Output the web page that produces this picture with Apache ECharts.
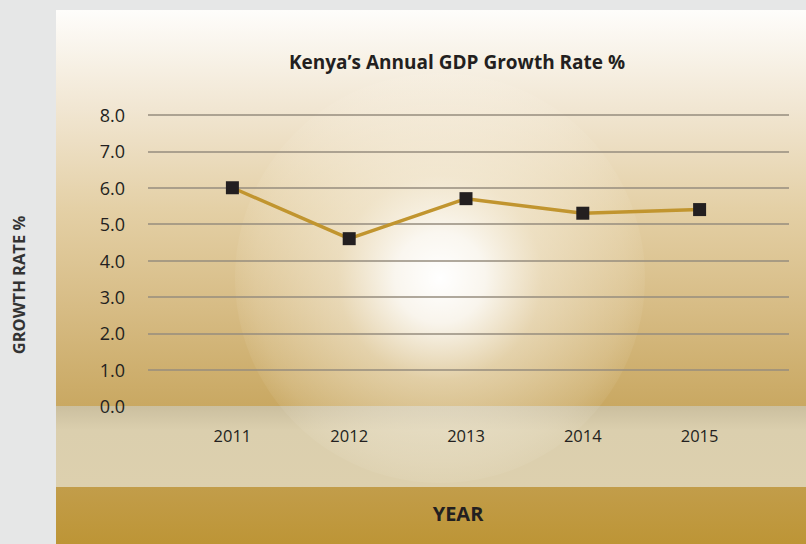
<!DOCTYPE html>
<html>
<head>
<meta charset="utf-8">
<script src="https://cdn.jsdelivr.net/npm/echarts@6/dist/echarts.min.js"></script>
<style>
html,body{margin:0;padding:0;background:#e6e7e7;}
#chart{width:806px;height:544px;}
</style>
</head>
<body>
<div id="chart"></div>
<script>
var categories = ['2011', '2012', '2013', '2014', '2015'];
var growthValues = [6.0, 4.6, 5.7, 5.3, 5.4];
var titleText = 'Kenya\u2019s Annual GDP Growth Rate %';
var yAxisTitle = 'GROWTH RATE %';
var xAxisTitle = 'YEAR';

var FONT = '"Open Sans", Lato, sans-serif';
var chart = echarts.init(document.getElementById('chart'), null, {renderer: 'svg'});

var gridColors = ['rgba(0,0,0,0)'];
for (var i = 1; i <= 8; i++) gridColors.push('#968d7e');

var option = {
  backgroundColor: '#e6e7e7',
  animation: false,
  title: {
    text: titleText,
    left: 452,
    top: 47,
    textAlign: 'center',
    textStyle: {fontFamily: FONT, fontSize: 19, fontWeight: 'bold', color: '#231f20'}
  },
  graphic: [
    {type: 'rect', z: -10, silent: true, shape: {x: 56, y: 10, width: 750, height: 396},
      style: {fill: {type: 'linear', x: 0, y: 0, x2: 0, y2: 1, colorStops: [
        {offset: 0, color: '#fefdfb'},
        {offset: 0.25, color: '#f1e6d2'},
        {offset: 0.5, color: '#e4d0a6'},
        {offset: 0.75, color: '#d7bc85'},
        {offset: 1, color: '#c9a862'}]}}},
    {type: 'rect', z: -9, silent: true, shape: {x: 56, y: 406, width: 750, height: 81},
      style: {fill: {type: 'linear', x: 0, y: 0, x2: 0, y2: 1, colorStops: [
        {offset: 0, color: '#cbbf9f'},
        {offset: 0.3, color: '#dbcfae'},
        {offset: 1, color: '#ddd0ae'}]}}},
    {type: 'circle', z: -8, silent: true, shape: {cx: 440, cy: 278, r: 205},
      style: {fill: {type: 'radial', x: 0.5, y: 0.5, r: 0.5, colorStops: [
        {offset: 0, color: 'rgba(255,255,255,1)'},
        {offset: 0.22, color: 'rgba(255,255,255,0.85)'},
        {offset: 0.5, color: 'rgba(255,252,245,0.42)'},
        {offset: 0.9, color: 'rgba(255,250,240,0.16)'},
        {offset: 1, color: 'rgba(255,250,240,0.06)'}]}}},
    {type: 'rect', z: -7, silent: true, shape: {x: 56, y: 487, width: 750, height: 57},
      style: {fill: {type: 'linear', x: 0, y: 0, x2: 0, y2: 1, colorStops: [
        {offset: 0, color: '#c29d4a'},
        {offset: 1, color: '#bd9536'}]}}},
    {type: 'text', z: 5, silent: true, x: 458, y: 513,
      style: {text: xAxisTitle, fill: '#231f20', font: 'bold 20px ' + FONT, textAlign: 'center', textVerticalAlign: 'middle'}},
    {type: 'text', z: 5, silent: true, x: 18, y: 285, rotation: Math.PI / 2,
      style: {text: yAxisTitle, fill: '#333333', font: 'bold 16.5px ' + FONT, textAlign: 'center', textVerticalAlign: 'middle'}}
  ],
  grid: [
    {left: 148, right: 17, top: 115, bottom: 138},
    {left: 174, right: 48, top: 115, bottom: 138}
  ],
  xAxis: [
    {gridIndex: 0, type: 'category', data: categories, show: false},
    {gridIndex: 1, type: 'category', data: categories, boundaryGap: true,
      axisLine: {show: false}, axisTick: {show: false},
      axisLabel: {margin: 21, fontFamily: FONT, fontSize: 16.5, color: '#231f20'}}
  ],
  yAxis: [
    {gridIndex: 0, type: 'value', min: 0, max: 8, interval: 1,
      axisLine: {show: false}, axisTick: {show: false},
      axisLabel: {margin: 23, fontFamily: FONT, fontSize: 18, color: '#231f20',
        padding: [0, 0, 5, 0],
        formatter: function (v) { return v.toFixed(1); }},
      splitLine: {show: true, lineStyle: {color: gridColors, width: 1.5}}},
    {gridIndex: 1, type: 'value', min: 0, max: 8, interval: 1, show: false, splitLine: {show: false}}
  ],
  series: [{
    type: 'line',
    xAxisIndex: 1,
    yAxisIndex: 1,
    data: growthValues,
    symbol: 'rect',
    symbolSize: 13,
    itemStyle: {color: '#231f20'},
    lineStyle: {color: '#c1952f', width: 3.5},
    z: 3
  }]
};
chart.setOption(option);
</script>
</body>
</html>
